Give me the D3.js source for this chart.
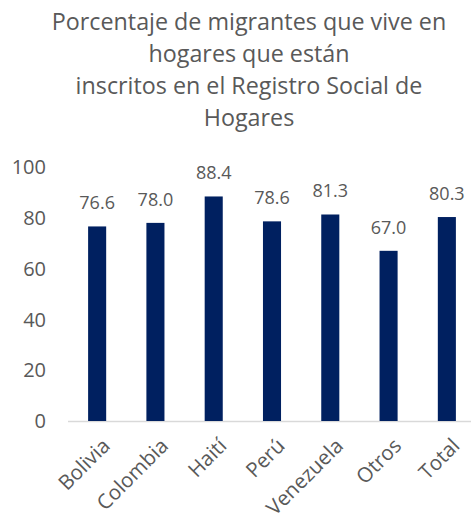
<!DOCTYPE html>
<html><head><meta charset="utf-8">
<script src="https://cdn.jsdelivr.net/npm/d3@7"></script>
<style>body{margin:0;background:#fff}</style>
</head><body>
<svg id="c" width="471" height="523"></svg>
<script>
const categories = ["Bolivia","Colombia","Haití","Perú","Venezuela","Otros","Total"];
const values = [76.6,78.0,88.4,78.6,81.3,67.0,80.3];
const yTicks = [0,20,40,60,80,100];
const titleLines = ["Porcentaje de migrantes que vive en","hogares que están","inscritos en el Registro Social de","Hogares"];

const svg = d3.select("#c");
const font = "'Open Sans', sans-serif";
const grey = "#595959";
const x = d3.scaleBand().domain(categories).range([68,476]).paddingInner(0.69).paddingOuter(0.345);
const y = d3.scaleLinear().domain([0,100]).range([421,167]);

svg.append("g").selectAll("text").data(titleLines).join("text")
  .attr("x",249).attr("y",(d,i)=>30+i*32).attr("text-anchor","middle")
  .attr("font-family",font).attr("font-size",23.3).attr("fill",grey).text(d=>d);

svg.append("g").selectAll("text").data(yTicks).join("text")
  .attr("x",46).attr("y",d=>y(d)).attr("dy","0.36em").attr("text-anchor","end")
  .attr("font-family",font).attr("font-size",20).attr("fill",grey).text(d=>d);

svg.append("line").attr("x1",68).attr("x2",471).attr("y1",y(0)+0.5).attr("y2",y(0)+0.5)
  .attr("stroke","#d9d9d9").attr("stroke-width",1.5);

svg.append("g").selectAll("rect").data(values).join("rect")
  .attr("x",(d,i)=>x(categories[i])).attr("width",x.bandwidth())
  .attr("y",d=>y(d)).attr("height",d=>y(0)-y(d)).attr("fill","#002060");

svg.append("g").selectAll("text").data(values).join("text")
  .attr("x",(d,i)=>x(categories[i])+x.bandwidth()/2).attr("y",d=>y(d)-17)
  .attr("text-anchor","middle").attr("font-family",font).attr("font-size",18).attr("fill",grey)
  .text(d=>d.toFixed(1));

svg.append("g").selectAll("text").data(categories).join("text")
  .attr("transform",d=>`translate(${x(d)+x.bandwidth()/2+4},${437}) rotate(-45)`)
  .attr("text-anchor","end").attr("dy","0.7em")
  .attr("font-family",font).attr("font-size",20.5).attr("fill",grey).text(d=>d);
</script>
</body></html>
